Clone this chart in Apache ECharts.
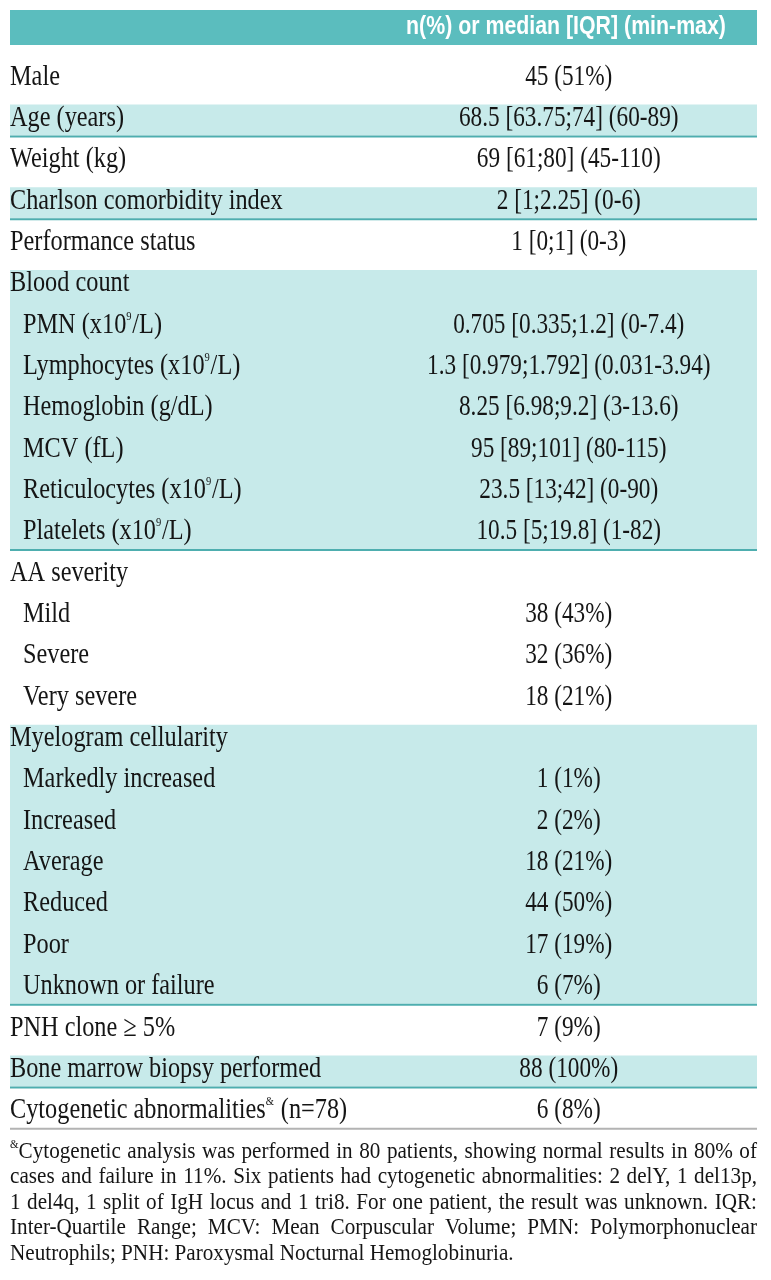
<!DOCTYPE html>
<html>
<head>
<meta charset="utf-8">
<script src="https://cdn.jsdelivr.net/npm/echarts@6.0.0/dist/echarts.min.js"></script>
<style>
html, body { margin: 0; padding: 0; background: #fff; }
#chart { width: 771px; height: 1280px; }
</style>
</head>
<body>
<div id="chart"></div>
<script>
// table content
var headerText = 'n(%) or median [IQR] (min-max)';

var rowLabels = [
    'Male', 'Age (years)', 'Weight (kg)', 'Charlson comorbidity index', 'Performance status',
    'Blood count', 'PMN (x10{sup|9}/L)', 'Lymphocytes (x10{sup|9}/L)', 'Hemoglobin (g/dL)',
    'MCV (fL)', 'Reticulocytes (x10{sup|9}/L)', 'Platelets (x10{sup|9}/L)',
    'AA severity', 'Mild', 'Severe', 'Very severe',
    'Myelogram cellularity', 'Markedly increased', 'Increased', 'Average', 'Reduced', 'Poor',
    'Unknown or failure',
    'PNH clone \u2265 5%', 'Bone marrow biopsy performed', 'Cytogenetic abnormalities{sup|&} (n=78)'
];
var rowValues = [
    '45 (51%)', '68.5 [63.75;74] (60-89)', '69 [61;80] (45-110)', '2 [1;2.25] (0-6)', '1 [0;1] (0-3)',
    '', '0.705 [0.335;1.2] (0-7.4)', '1.3 [0.979;1.792] (0.031-3.94)', '8.25 [6.98;9.2] (3-13.6)',
    '95 [89;101] (80-115)', '23.5 [13;42] (0-90)', '10.5 [5;19.8] (1-82)',
    '', '38 (43%)', '32 (36%)', '18 (21%)',
    '', '1 (1%)', '2 (2%)', '18 (21%)', '44 (50%)', '17 (19%)', '6 (7%)',
    '7 (9%)', '88 (100%)', '6 (8%)'
];
// 0 = heading row, 1 = sub item
var rowLevel = [0, 0, 0, 0, 0, 0, 1, 1, 1, 1, 1, 1, 0, 1, 1, 1, 0, 1, 1, 1, 1, 1, 1, 0, 0, 0];
// shaded blocks [first row, last row]
var shadedGroups = [[1, 1], [3, 3], [5, 11], [16, 22], [24, 24]];
var closingRows = [25];

var footnoteLines = [
    'Cytogenetic analysis was performed in 80 patients, showing normal results in 80% of',
    'cases and failure in 11%. Six patients had cytogenetic abnormalities: 2 delY, 1 del13p,',
    '1 del4q, 1 split of IgH locus and 1 tri8. For one patient, the result was unknown. IQR:',
    'Inter-Quartile Range; MCV: Mean Corpuscular Volume; PMN: Polymorphonuclear',
    'Neutrophils; PNH: Paroxysmal Nocturnal Hemoglobinuria.'
];

var serif = '"Liberation Serif", "DejaVu Serif", serif';
var headColor = '#5bbdbe';
var bandColor = '#c7eaea';
var ruleColor = '#4eaeaf';
var greyRule = '#b3b3b3';
var textColor = '#151515';
var valueColumnAt = 74.8;   // percent of table width
var tableLeft = 10, tableRight = 757;

var myChart = echarts.init(document.getElementById('chart'));

function renderBand(params, api) {
    var cs = params.coordSys;
    var top = api.coord([0, api.value(0)])[1] - 13.5;
    var bottom = api.coord([0, api.value(1)])[1] + 17.5;
    return {
        type: 'group',
        children: [
            {type: 'rect', shape: {x: cs.x, y: top, width: cs.width, height: bottom - top}, style: {fill: bandColor}},
            {type: 'rect', shape: {x: cs.x, y: bottom, width: cs.width, height: 2}, style: {fill: ruleColor}}
        ]
    };
}

function renderClosing(params, api) {
    var cs = params.coordSys;
    var y = api.coord([0, api.value(0)])[1] + 17.5;
    return {type: 'rect', shape: {x: cs.x, y: y, width: cs.width, height: 2}, style: {fill: greyRule}};
}

function renderRow(params, api) {
    var i = api.value(1);
    var cs = params.coordSys;
    var p = api.coord([valueColumnAt, i]);
    var children = [{
        type: 'text',
        x: cs.x + rowLevel[i] * 13,
        y: p[1],
        scaleX: 0.81,
        style: {
            text: rowLabels[i],
            fill: textColor,
            fontFamily: serif,
            fontSize: 30,
            align: 'left',
            verticalAlign: 'middle',
            rich: {
                sup: {fontSize: 13, fontFamily: serif, fill: textColor, verticalAlign: 'top', padding: [0, 1, 0, 0]}
            }
        }
    }];
    if (rowValues[i] !== '') {
        children.push({
            type: 'text',
            x: p[0],
            y: p[1],
            scaleX: 0.775,
            style: {
                text: rowValues[i],
                fill: textColor,
                fontFamily: serif,
                fontSize: 30,
                align: 'center',
                verticalAlign: 'middle'
            }
        });
    }
    return {type: 'group', children: children};
}

// justified footnote, laid out word by word
var noteSize = 23, noteScale = 0.92, noteTop = 1152, notePitch = 25.4;
var measureCtx = document.createElement('canvas').getContext('2d');
function noteWidth(s, size) {
    measureCtx.font = size + 'px ' + serif;
    return measureCtx.measureText(s).width * noteScale;
}
var noteElements = [];
for (var n = 0; n < footnoteLines.length; n++) {
    var y = noteTop + n * notePitch;
    var start = tableLeft;
    if (n === 0) {
        noteElements.push({
            type: 'text', x: start, y: y - 7, scaleX: noteScale,
            style: {text: '&', fontFamily: serif, fontSize: 12, fill: textColor, align: 'left', verticalAlign: 'middle'}
        });
        start += noteWidth('&', 12);
    }
    var words = footnoteLines[n].split(' ');
    var total = 0;
    for (var w = 0; w < words.length; w++) total += noteWidth(words[w], noteSize);
    var last = n === footnoteLines.length - 1;
    var gap = last ? noteWidth(' ', noteSize) : (tableRight - start - total) / (words.length - 1);
    var x = start;
    for (w = 0; w < words.length; w++) {
        noteElements.push({
            type: 'text', x: x, y: y, scaleX: noteScale,
            style: {text: words[w], fontFamily: serif, fontSize: noteSize, fill: textColor, align: 'left', verticalAlign: 'middle'}
        });
        x += noteWidth(words[w], noteSize) + gap;
    }
}

var option = {
    animation: false,
    grid: {left: tableLeft, right: 771 - tableRight, top: 56, height: 1075},
    xAxis: {type: 'value', min: 0, max: 100, show: false},
    yAxis: {type: 'category', inverse: true, show: false, data: rowLabels.map(function (l, i) { return i; })},
    graphic: [
        {type: 'rect', shape: {x: tableLeft, y: 10, width: tableRight - tableLeft, height: 35}, style: {fill: headColor}},
        {
            type: 'text', x: 566, y: 27, scaleX: 0.82,
            style: {
                text: headerText, fill: '#fff', fontFamily: '"Liberation Sans", Arial, sans-serif',
                fontWeight: 'bold', fontSize: 26, align: 'center', verticalAlign: 'middle'
            }
        }
    ].concat(noteElements),
    series: [
        {type: 'custom', renderItem: renderBand, encode: {y: [0, 1]}, data: shadedGroups, silent: true},
        {type: 'custom', renderItem: renderClosing, encode: {y: 0}, data: closingRows.map(function (r) { return [r]; }), silent: true},
        {
            type: 'custom', renderItem: renderRow, encode: {x: 0, y: 1}, silent: true,
            data: rowLabels.map(function (l, i) { return [valueColumnAt, i]; })
        }
    ]
};
myChart.setOption(option);
</script>
</body>
</html>
